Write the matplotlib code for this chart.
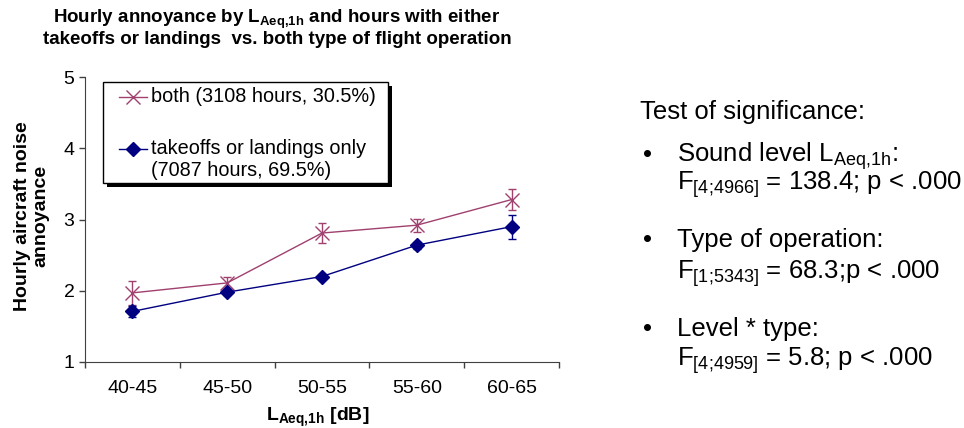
import matplotlib
matplotlib.use("Agg")
import matplotlib.pyplot as plt
from matplotlib.lines import Line2D
from matplotlib.patches import Rectangle
import numpy as np

plt.rcParams['font.family'] = ['Liberation Sans', 'DejaVu Sans']
plt.rcParams['mathtext.fontset'] = 'custom'
plt.rcParams['mathtext.rm'] = 'Liberation Sans'
plt.rcParams['mathtext.it'] = 'Liberation Sans:italic'
plt.rcParams['mathtext.bf'] = 'Liberation Sans:bold'

# data
levels = ['40-45', '45-50', '50-55', '55-60', '60-65']
both_mean = [1.97, 2.11, 2.81, 2.92, 3.28]
both_err = [0.17, 0.08, 0.14, 0.09, 0.15]
single_mean = [1.71, 1.98, 2.20, 2.64, 2.90]
single_err = [0.08, 0.04, 0.04, 0.05, 0.17]

both_label = 'both (3108 hours, 30.5%)'
single_label = 'takeoffs or landings only\n(7087 hours, 69.5%)'

tests = [
    (r'Sound level L$_{\mathrm{Aeq{,}1h}}$:', r'F$_{\text{[4;4966]}}$ = 138.4; p < .000'),
    ('Type of operation:', r'F$_{\text{[1;5343]}}$ = 68.3;p < .000'),
    ('Level * type:', r'F$_{\text{[4;4959]}}$ = 5.8; p < .000'),
]

both_color = '#A0406F'
single_color = '#000080'

W, H = 964, 428
fig = plt.figure(figsize=(W / 100, H / 100), dpi=100)


def fx(px):
    return px / W


def fy(py):
    return 1 - py / H


ax = fig.add_axes([fx(85), fy(362), fx(559) - fx(85), fy(77) - fy(362)])

x = np.arange(len(levels))
ax.errorbar(x, both_mean, yerr=both_err, color=both_color, marker='x',
            markersize=9.5, markeredgewidth=1.0, linewidth=1.0,
            capsize=3, elinewidth=1.0)
ax.errorbar(x, single_mean, yerr=single_err, color=single_color, marker='D',
            markersize=7, linewidth=1.0, capsize=3, elinewidth=1.0)

ax.set_xlim(-0.5, len(levels) - 0.5)
ax.set_ylim(1, 5)
ax.set_yticks([1, 2, 3, 4, 5])
ax.set_xticks(np.arange(len(levels) + 1) - 0.5)
ax.set_xticklabels([])
ax.set_xticks(x, minor=True)
ax.set_xticklabels(levels, minor=True, fontsize=14)
ax.tick_params(axis='x', which='minor', length=0, pad=13)
ax.tick_params(axis='x', which='major', direction='out', length=4.5, width=1,
               color='#404040')
ax.tick_params(axis='y', direction='out', length=4.5, width=1, labelsize=14,
               pad=3, color='#404040')
ax.spines['top'].set_visible(False)
ax.spines['right'].set_visible(False)
for s in ['left', 'bottom']:
    ax.spines[s].set_color('#404040')

ax.set_xlabel(r'L$_{\mathbf{Aeq{,}1h}}$ [dB]', fontsize=14, fontweight='bold')
ax.xaxis.set_label_coords(0.49, -0.155)
fig.text(fx(32), fy(216), 'Hourly aircraft noise\nannoyance', rotation=90,
         fontsize=14, fontweight='bold', ha='center', va='center',
         multialignment='center', linespacing=1.1)

# title
fig.text(fx(277), fy(19), r'Hourly annoyance by L$_{\mathbf{Aeq{,}1h}}$ and hours with either',
         fontsize=13.5, fontweight='bold', ha='center', va='center')
fig.text(fx(277), fy(40), 'takeoffs or landings  vs. both type of flight operation',
         fontsize=13.5, fontweight='bold', ha='center', va='center')

# legend box with shadow
fig.add_artist(Rectangle((fx(107), fy(187)), fx(285), fy(82) - fy(183),
                         transform=fig.transFigure, facecolor='black',
                         edgecolor='none', zorder=3))
fig.add_artist(Rectangle((fx(103), fy(183)), fx(285), fy(82) - fy(183),
                         transform=fig.transFigure, facecolor='white',
                         edgecolor='black', linewidth=1.0, zorder=4))
entries = [(both_label, both_color, 'x', 9.5, 97),
           (single_label, single_color, 'D', 7, 149)]
for label, col, mk, ms, yy in entries:
    fig.add_artist(Line2D([fx(119), fx(147)], [fy(yy), fy(yy)],
                          transform=fig.transFigure, color=col, linewidth=1.0,
                          zorder=5))
    fig.add_artist(Line2D([fx(133)], [fy(yy)], transform=fig.transFigure,
                          color=col, marker=mk, markersize=ms,
                          markeredgewidth=1.0, zorder=5))
    for i, part in enumerate(label.split('\n')):
        fig.text(fx(151), fy(yy + 22 * i), part, fontsize=14.3, ha='left',
                 va='center', zorder=6)

# significance tests
fs = 18.5
fig.text(fx(640), fy(119), 'Test of significance:', fontsize=fs, va='baseline')
baselines = [(162, 190), (247, 279), (336, 366)]
for (line1, line2), (b1, b2) in zip(tests, baselines):
    fig.text(fx(647), fy(b1), '\u2022', fontsize=fs, ha='center', va='baseline')
    fig.text(fx(677), fy(b1), line1, fontsize=fs, va='baseline')
    fig.text(fx(677), fy(b2), line2, fontsize=fs, va='baseline')

fig.savefig('out.png', dpi=100)
